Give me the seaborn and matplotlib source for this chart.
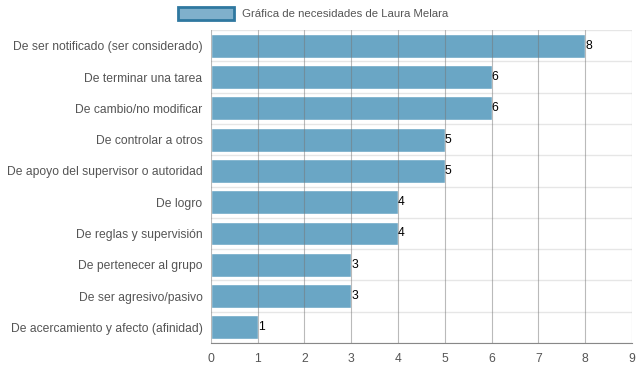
import pandas as pd
import numpy as np
import matplotlib
matplotlib.use("Agg")
import matplotlib.pyplot as plt
import seaborn as sns
from matplotlib.patches import Patch

# data
needs = [
    "De ser notificado (ser considerado)",
    "De terminar una tarea",
    "De cambio/no modificar",
    "De controlar a otros",
    "De apoyo del supervisor o autoridad",
    "De logro",
    "De reglas y supervisión",
    "De pertenecer al grupo",
    "De ser agresivo/pasivo",
    "De acercamiento y afecto (afinidad)",
]
scores = [8, 6, 6, 5, 5, 4, 4, 3, 3, 1]
series_name = "Gráfica de necesidades de Laura Melara"

df = pd.DataFrame({"need": needs, "score": scores})

sns.set_style("white")
plt.rcParams["font.family"] = ["Liberation Sans", "DejaVu Sans"]

fig = plt.figure(figsize=(6.39, 3.72), dpi=100)
ax = fig.add_axes([0.330, 0.078, 0.659, 0.841])

bar_color = "#6aa6c5"
sns.barplot(data=df, x="score", y="need", orient="h", color=bar_color,
            saturation=1, width=0.76, ax=ax, zorder=2)

# vertical grid lines drawn above bars (faint)
for v in range(0, 10):
    ax.axvline(v, color="#777777", lw=0.8, alpha=0.5, zorder=3)
# horizontal separators between categories
for k in range(len(needs) + 1):
    ax.axhline(k - 0.5, color="#e6e6e6", lw=1, zorder=1)

for i, s in enumerate(scores):
    ax.text(s, i, str(s), va="center", ha="left", fontsize=8.7, color="black", zorder=4)

ax.set_xlim(0, 9)
ax.set_ylim(len(needs) - 0.5, -0.5)
ax.set_xticks(range(0, 10))
ax.set_xlabel("")
ax.set_ylabel("")
ax.tick_params(axis="x", length=5, color="#888888", labelsize=8.7, labelcolor="#555555", pad=2)
ax.tick_params(axis="y", length=0, labelsize=8.7, labelcolor="#555555", pad=6)
for side in ["top", "right", "left"]:
    ax.spines[side].set_visible(False)
ax.spines["bottom"].set_color("#888888")
ax.spines["bottom"].set_linewidth(0.8)

handle = Patch(facecolor="#7fb0cc", edgecolor="#2f78a0", linewidth=2)
fig.legend([handle], [series_name], loc="upper center", bbox_to_anchor=(0.49, 1.01),
           frameon=False, fontsize=8.2, handlelength=5.0, handleheight=1.4,
           labelcolor="#555555", handletextpad=0.7)

fig.savefig("out.png", dpi=100)
